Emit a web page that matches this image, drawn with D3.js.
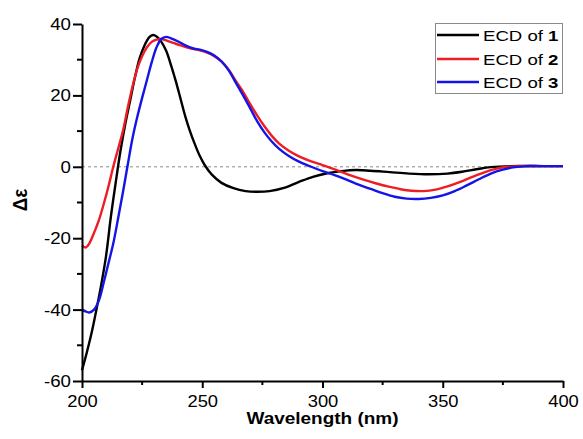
<!DOCTYPE html>
<html><head><meta charset="utf-8">
<script src="https://cdn.jsdelivr.net/npm/d3@7"></script>
<style>body{margin:0;background:#fff} text{font-family:"Liberation Sans",Arial,sans-serif;fill:#000}</style>
</head><body>
<svg id="c" width="583" height="439"></svg>
<script>
// ---- data ----
const wavelength1 = [200,202,204,206,208,210,212,214,216,218,220,222,224,226,228,229.5,231,233,235,237,239,241,243,245,247,249,251,254,258,263,268,273,278,284,290,296,302,308,314,320,328,336,344,352,358,364,370,378,390,400];
const ecd1 =        [-57,-52,-46.5,-40,-33,-25,-14,-4.5,4.5,12,18.5,25,30.5,34,36.3,36.9,36.5,35,32.5,28.5,24,19,14,9.8,6.2,3,0.5,-2.2,-4.5,-6,-6.8,-7,-6.8,-5.9,-4.3,-2.8,-1.8,-1.2,-0.9,-1.1,-1.5,-1.9,-2.1,-1.9,-1.4,-0.7,-0.1,0.2,0.2,0.2];
const wavelength2 = [200,201.5,203,205,207,209,211,213,215,217,219,221,223,225,227,229,231,233,235,238,241,245,249,252,255,258,261,264,267,270,273,276,279,282,286,290,295,300,303,307,312,317,322,327,332,337,342,347,352,357,362,367,372,377,383,390,400];
const ecd2 =        [-22,-22.6,-21.5,-18.5,-15,-10.5,-5.5,0,5,10,16.5,22.5,27.5,31,33.5,35,35.6,35.8,35.4,34.7,34,33.2,32.6,32,31,29.5,27.2,24,21,17.5,14.2,11.2,8.6,6.5,4.5,3,1.6,0.5,-0.2,-1.2,-2.5,-3.6,-4.6,-5.5,-6.2,-6.7,-6.8,-6.4,-5.5,-4.3,-2.9,-1.6,-0.6,0,0.2,0.2,0.2];
const wavelength3 = [200,201.5,203,205,207,209,211,213,215,217,219,221,223,225,227,229,231,233,235,237,240,243,246,249,252,255,258,261,264,267,270,273,276,279,282,286,290,295,300,305,310,315,320,325,330,335,340,345,350,355,360,365,370,375,380,385,392,400];
const ecd3 =        [-40,-40.5,-40.8,-40,-37.5,-32.5,-27,-21.5,-14.5,-7.2,0.5,8,14,19.3,24.3,29.3,33.5,35.8,36.4,36,35.1,34,33.2,32.8,32.2,31.2,29.5,27,23.5,20,16.3,12.6,9.5,7,5,3,1.5,0.1,-1.2,-2.3,-3.6,-5,-6.2,-7.4,-8.4,-8.9,-9,-8.7,-8,-6.8,-5.2,-3.5,-1.9,-0.8,-0.1,0.2,0.2,0.2];
const seriesNames = ["1","2","3"];
const seriesColors = ["#000000","#ee1c24","#1414e6"];
const xTicks = [200,250,300,350,400];
const xMinorTicks = [225,275,325,375];
const yTicks = [-60,-40,-20,0,20,40];
const yMinorTicks = [-50,-30,-10,10,30];

// ---- chart ----
const svg = d3.select("#c");
const x = d3.scaleLinear().domain([200,400]).range([82,563]);
const y = d3.scaleLinear().domain([-60,40]).range([381,24]);

// zero line
svg.append("line").attr("x1",x(200)).attr("x2",x(400)).attr("y1",y(0)).attr("y2",y(0))
  .attr("stroke","#8a8a8a").attr("stroke-width",1).attr("stroke-dasharray","3,3");

const series = [[wavelength1,ecd1],[wavelength2,ecd2],[wavelength3,ecd3]];
const line = d3.line().x(d=>x(d[0])).y(d=>y(d[1])).curve(d3.curveCatmullRom.alpha(0.5));
series.forEach((s,i)=>{
  const pts = s[0].map((w,j)=>[w,s[1][j]]);
  svg.append("path").datum(pts).attr("d",line).attr("fill","none")
    .attr("stroke",seriesColors[i]).attr("stroke-width",2.4).attr("stroke-linejoin","round");
});

// axes
const fmt = d => String(d);
const gx = svg.append("g").attr("transform",`translate(0,${y(-60)})`)
  .call(d3.axisBottom(x).tickValues(xTicks).tickSize(7).tickSizeOuter(0).tickPadding(7).tickFormat(fmt));
gx.append("g").selectAll("line").data(xMinorTicks).join("line")
  .attr("x1",d=>x(d)).attr("x2",d=>x(d)).attr("y1",0).attr("y2",4).attr("stroke","#000").attr("stroke-width",2);
const gy = svg.append("g").attr("transform",`translate(${x(200)},0)`)
  .call(d3.axisLeft(y).tickValues(yTicks).tickSize(9).tickSizeOuter(0).tickPadding(2).tickFormat(fmt));
gy.append("g").selectAll("line").data(yMinorTicks).join("line")
  .attr("y1",d=>y(d)).attr("y2",d=>y(d)).attr("x1",0).attr("x2",-5).attr("stroke","#000").attr("stroke-width",2);
[gx,gy].forEach(g=>{
  g.select(".domain").attr("stroke","#000").attr("stroke-width",2);
  g.selectAll(".tick line").attr("stroke","#000").attr("stroke-width",2);
  g.selectAll(".tick text").attr("font-size",17).attr("font-family",'"Liberation Sans",Arial,sans-serif').attr("fill","#000");
});
gy.selectAll(".tick text").attr("transform","scale(1.1,1)").attr("x",-11/1.1);
gx.selectAll(".tick text").attr("transform","scale(1.08,1)");

// axis titles
svg.append("text").attr("transform","translate(322.5,424) scale(1.15,1)").attr("text-anchor","middle")
  .attr("font-size",16.5).attr("font-weight","bold").text("Wavelength (nm)");
svg.append("text").attr("transform","translate(27,200) rotate(-90) scale(1,1.1)").attr("text-anchor","middle")
  .attr("font-size",19).attr("font-weight","bold").text("Δε");

// legend
const lg = svg.append("g");
lg.append("rect").attr("x",435.5).attr("y",23.5).attr("width",127).attr("height",70)
  .attr("fill","#fff").attr("stroke","#8a8a8a").attr("stroke-width",1);
const ly = [35,59,82];
seriesNames.forEach((n,i)=>{
  lg.append("line").attr("x1",437).attr("x2",479).attr("y1",ly[i]).attr("y2",ly[i])
    .attr("stroke",seriesColors[i]).attr("stroke-width",2.4);
  const t = lg.append("text").attr("transform",`translate(483,${ly[i]+5.5}) scale(1.2,1)`).attr("font-size",15.5);
  t.append("tspan").text("ECD of ");
  t.append("tspan").attr("font-weight","bold").text(n);
});
</script>
</body></html>
